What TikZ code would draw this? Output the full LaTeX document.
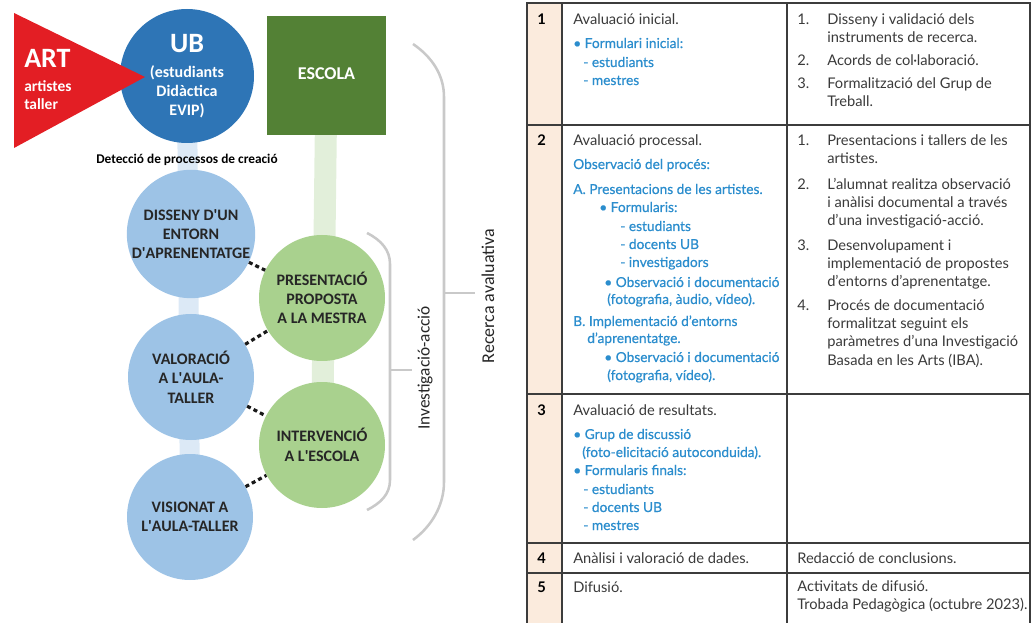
\documentclass[tikz,border=0pt]{standalone}
\usepackage{fontspec}
\setmainfont{Carlito}
\newfontfamily\tabfont{Lato}
\newfontfamily\tabfontb[FakeBold=0.6]{Lato}
\usetikzlibrary{backgrounds}
\definecolor{ubblue}{HTML}{2E75B6}
\definecolor{lblue}{HTML}{9DC3E6}
\definecolor{barblue}{HTML}{DCE9F6}
\definecolor{lgreen}{HTML}{A9D18E}
\definecolor{bargreen}{HTML}{E2EFDA}
\definecolor{dgreen}{HTML}{538135}
\definecolor{artred}{HTML}{E31E24}
\definecolor{brgray}{HTML}{C9C9C9}
\definecolor{tblue}{HTML}{2B8DCD}
\definecolor{tgray}{HTML}{3A3A3A}
\definecolor{peach}{HTML}{FBEBDD}
\definecolor{tline}{HTML}{3C3C3C}
\tikzset{
  bluecirc/.style={circle,fill=lblue,minimum size=94.5pt,inner sep=0pt,align=center,
    font=\bfseries\fontsize{12}{14.5}\selectfont,text=black!85},
  greencirc/.style={circle,fill=lgreen,minimum size=94.5pt,inner sep=0pt,align=center,
    font=\bfseries\fontsize{12}{14.5}\selectfont,text=black!85},
  dashcon/.style={line width=2.4pt,dash pattern=on 3pt off 2.4pt,black!90},
  bracket/.style={line width=1.9pt,brgray},
  tt/.style={anchor=base west,inner sep=0pt,font=\tabfont\fontsize{11}{13}\selectfont,text=tgray},
  tb/.style={tt,font=\tabfontb\fontsize{10.3}{12}\selectfont,text=tblue},
  tn/.style={tt,font=\tabfont\bfseries\fontsize{11}{13}\selectfont,text=black},
  tabline/.style={line width=1.5pt,tline}
}
\begin{document}
\begin{tikzpicture}[x=0.75pt,y=-0.75pt]
\useasboundingbox (0,0) rectangle (1031,623);
% ---------------- left diagram ----------------
\node[circle,fill=ubblue,minimum size=100.5pt,inner sep=0pt] (ub) at (187,76) {};
\node[rectangle,fill=dgreen,minimum width=89.25pt,minimum height=89.25pt,inner sep=0pt,
  text=white,font=\bfseries\fontsize{13.5}{14}\selectfont] (esc) at (326.5,75.5) {\raisebox{3pt}{ESCOLA}};
\node[bluecirc] (dis) at (191,234) {DISSENY D\textquotesingle UN\\ENTORN\\D\textquotesingle APRENENTATGE};
\node[bluecirc] (val) at (191,377) {VALORACIÓ\\A L\textquotesingle AULA-\\TALLER};
\node[bluecirc] (vis) at (190,517) {VISIONAT A\\L\textquotesingle AULA-TALLER};
\node[greencirc] (pres) at (322,298) {PRESENTACIÓ\\PROPOSTA\\A LA MESTRA};
\node[greencirc] (int) at (322,445) {INTERVENCIÓ\\A L\textquotesingle ESCOLA};
\begin{pgfonlayer}{background}
  \draw[line width=15pt,barblue] (ub.center) -- (vis.center);
  \draw[line width=16.5pt,bargreen] (esc.center) -- (int.center);
\end{pgfonlayer}
% ART triangle
\fill[artred] (14,13) -- (14,148) -- (145,77) -- cycle;
\node[anchor=base west,inner sep=0pt,text=white,font=\bfseries\fontsize{21}{21}\selectfont] (art) at (24,68) {ART};
\node[anchor=base west,inner sep=0pt,text=white,font=\bfseries\fontsize{11.6}{13.5}\selectfont] (artx) at (24,92) {artistes};
\node[anchor=base west,inner sep=0pt,text=white,font=\bfseries\fontsize{11.6}{13.5}\selectfont] (arty) at (24,110) {taller};
% UB text
\node[anchor=base,inner sep=0pt,text=white,font=\bfseries\fontsize{21}{21}\selectfont] (ubt) at (187,53) {UB};
\node[anchor=base,inner sep=0pt,text=white,font=\bfseries\fontsize{12}{14}\selectfont] (ubt1) at (187,78) {(estudiants};
\node[anchor=base,inner sep=0pt,text=white,font=\bfseries\fontsize{12}{14}\selectfont] (ubt2) at (187,97) {Didàctica};
\node[anchor=base,inner sep=0pt,text=white,font=\bfseries\fontsize{12}{14}\selectfont] (ubt3) at (187,116) {EVIP)};
\node[anchor=base,inner sep=0pt,font=\bfseries\fontsize{10}{12}\selectfont] (det) at (187,164) {Detecció de processos de creació};
% dashed connectors
\draw[dashcon] (dis) -- (pres);
\draw[dashcon] (val) -- (pres);
\draw[dashcon] (val) -- (int);
\draw[dashcon] (vis) -- (int);
% brackets
\draw[bracket] (367,233) .. controls (381,240) and (390,250) .. (390,264) -- (390,480)
  .. controls (390,494) and (381,503) .. (367,510);
\draw[bracket] (390,370) -- (412,370);
\draw[bracket] (413,44) .. controls (432,57) and (444,75) .. (444,97) -- (444,482)
  .. controls (444,505) and (432,526) .. (413,540);
\draw[bracket] (444,293) -- (475,293);
\node[rotate=90,inner sep=0pt,font=\fontsize{13}{14}\selectfont,text=black!85] (ia) at (425,368) {Investigació-acció};
\node[rotate=90,inner sep=0pt,font=\fontsize{13.5}{14}\selectfont,text=black!85] (ra) at (488,296) {Recerca avaluativa};
% ---------------- table ----------------
\fill[peach] (527,3) rectangle (562,630);
\draw[tabline] (527,3) rectangle (1030,630);
\draw[tabline] (562,3) -- (562,630);
\draw[tabline] (787,3) -- (787,630);
\foreach \yy in {125,394,543,573} \draw[tabline] (527,\yy) -- (1030,\yy);
% row 1
\node[tn] (n1) at (537,25) {1};
\node[tt] (a1) at (573,25) {Avaluació inicial.};
\node[tb] (a2) at (573,48) {• Formulari inicial:};
\node[tb] (a3) at (583,67) {- estudiants};
\node[tb] (a4) at (583,85) {- mestres};
\node[tt] (b1) at (797,25) {1.};
\node[tt] (b2) at (827,25) {Disseny i validació dels};
\node[tt] (b3) at (827,43) {instruments de recerca.};
\node[tt] (b4) at (797,66) {2.};
\node[tt] (b5) at (827,66) {Acords de col·laboració.};
\node[tt] (b6) at (797,89) {3.};
\node[tt] (b7) at (827,89) {Formalització del Grup de};
\node[tt] (b8) at (827,107) {Treball.};
% row 2
\node[tn] (n2) at (537,146) {2};
\node[tt] (c1) at (573,146) {Avaluació processal.};
\node[tb] (c2) at (573,169) {Observació del procés:};
\node[tb] (c3) at (573,194) {A. Presentacions de les artistes.};
\node[tb] (c4) at (599,212) {• Formularis:};
\node[tb] (c5) at (620,231) {- estudiants};
\node[tb] (c6) at (620,249) {- docents UB};
\node[tb] (c7) at (620,267) {- investigadors};
\node[tb] (c8) at (604,287) {• Observació i documentació};
\node[tb] (c9) at (607,304) {(fotografia, àudio, vídeo).};
\node[tb] (c10) at (573,326) {B. Implementació d’entorns};
\node[tb] (c11) at (587,343) {d’aprenentatge.};
\node[tb] (c12) at (604,362) {• Observació i documentació};
\node[tb] (c13) at (607,380) {(fotografia, vídeo).};
\node[tt] (d1) at (797,146) {1.};
\node[tt] (d2) at (827,146) {Presentacions i tallers de les};
\node[tt] (d3) at (827,164) {artistes.};
\node[tt] (d4) at (797,190) {2.};
\node[tt] (d5) at (827,190) {L’alumnat realitza observació};
\node[tt] (d6) at (827,208) {i anàlisi documental a través};
\node[tt] (d7) at (827,226) {d’una investigació-acció.};
\node[tt] (d8) at (797,251) {3.};
\node[tt] (d9) at (827,251) {Desenvolupament i};
\node[tt] (d10) at (827,269) {implementació de propostes};
\node[tt] (d11) at (827,287) {d’entorns d’aprenentatge.};
\node[tt] (d12) at (797,311) {4.};
\node[tt] (d13) at (827,311) {Procés de documentació};
\node[tt] (d14) at (827,329) {formalitzat seguint els};
\node[tt] (d15) at (827,347) {paràmetres d’una Investigació};
\node[tt] (d16) at (827,365) {Basada en les Arts (IBA).};
% row 3
\node[tn] (n3) at (537,415) {3};
\node[tt] (e1) at (573,415) {Avaluació de resultats.};
\node[tb] (e2) at (573,439) {• Grup de discussió};
\node[tb] (e3) at (582,457) {(foto-elicitació autoconduida).};
\node[tb] (e4) at (573,475) {• Formularis finals:};
\node[tb] (e5) at (583,494) {- estudiants};
\node[tb] (e6) at (583,512) {- docents UB};
\node[tb] (e7) at (583,530) {- mestres};
% row 4
\node[tn] (n4) at (537,563) {4};
\node[tt] (f1) at (573,563) {Anàlisi i valoració de dades.};
\node[tt] (f2) at (797,563) {Redacció de conclusions.};
% row 5
\node[tn] (n5) at (537,592) {5};
\node[tt] (g1) at (573,592) {Difusió.};
\node[tt] (g2) at (797,591) {Activitats de difusió.};
\node[tt] (g3) at (797,609) {Trobada Pedagògica (octubre 2023).};
\end{tikzpicture}
\end{document}
